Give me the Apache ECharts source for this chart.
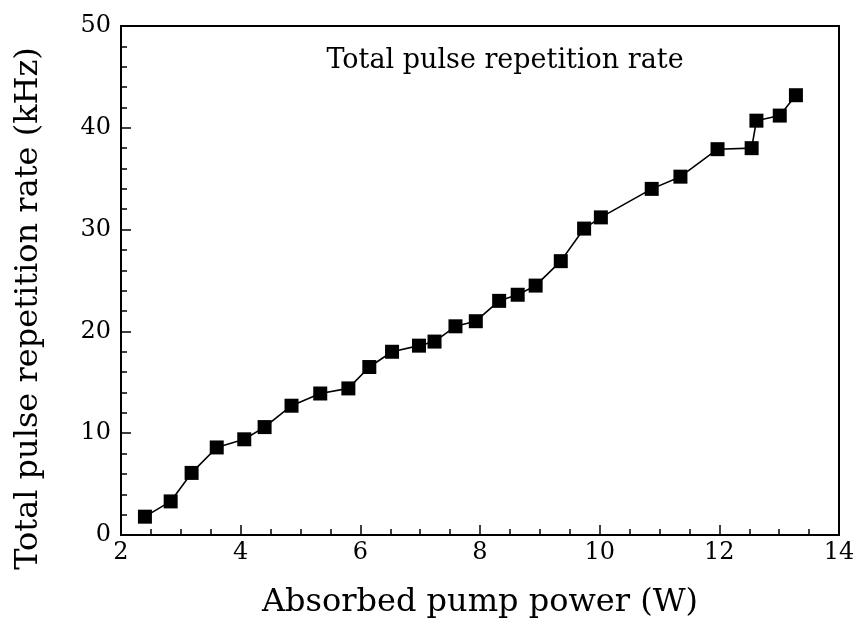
<!DOCTYPE html>
<html>
<head>
<meta charset="utf-8">
<script src="https://cdn.jsdelivr.net/npm/echarts@6/dist/echarts.min.js"></script>
<style>html,body{margin:0;padding:0;background:#fff}#c{width:863px;height:625px}</style>
</head>
<body>
<div id="c"></div>
<script>
const pumpPower = [2.40, 2.83, 3.18, 3.60, 4.06, 4.40, 4.85, 5.33, 5.80, 6.15, 6.53, 6.98, 7.24, 7.59, 7.93,
  8.32, 8.63, 8.93, 9.35, 9.74, 10.02, 10.87, 11.35, 11.97, 12.54, 12.62, 13.01, 13.28];
const repRate = [1.8, 3.3, 6.1, 8.6, 9.4, 10.6, 12.7, 13.9, 14.4, 16.5, 18.0, 18.6, 19.0, 20.5, 21.0,
  23.0, 23.6, 24.5, 26.9, 30.1, 31.2, 34.0, 35.2, 37.9, 38.0, 40.7, 41.2, 43.2];
const xTitle = 'Absorbed pump power (W)';
const yTitle = 'Total pulse repetition rate (kHz)';
const innerTitle = 'Total pulse repetition rate';

const font = '"DejaVu Serif", "Liberation Serif", serif';
const chart = echarts.init(document.getElementById('c'), null, {renderer: 'canvas'});
chart.setOption({
  backgroundColor: '#fff',
  animation: false,
  title: {
    text: innerTitle,
    left: 500, top: 42, textAlign: 'center',
    textStyle: {fontFamily: font, fontSize: 27, fontWeight: 'normal', color: '#000'}
  },
  grid: {left: 121, right: 24, top: 26, bottom: 90, show: true, borderColor: '#000', borderWidth: 2, backgroundColor: 'transparent'},
  xAxis: {
    type: 'value', min: 2, max: 14, interval: 2,
    name: xTitle, nameLocation: 'middle', nameGap: 52,
    nameTextStyle: {fontFamily: font, fontSize: 32, color: '#000'},
    axisLine: {show: true, lineStyle: {color: '#000', width: 2}},
    axisTick: {show: true, inside: true, length: 10, lineStyle: {color: '#000', width: 1.5}},
    minorTick: {show: true, splitNumber: 4, length: 6, lineStyle: {color: '#000', width: 1.5}},
    splitLine: {show: false},
    axisLabel: {fontFamily: font, fontSize: 24, color: '#000', margin: 6}
  },
  yAxis: {
    type: 'value', min: 0, max: 50, interval: 10,
    name: yTitle, nameLocation: 'middle', nameGap: 76,
    nameTextStyle: {fontFamily: font, fontSize: 32, color: '#000', padding: [0, 56, 0, 0]},
    axisLine: {show: true, lineStyle: {color: '#000', width: 2}},
    axisTick: {show: true, inside: true, length: 10, lineStyle: {color: '#000', width: 1.5}},
    minorTick: {show: true, splitNumber: 5, length: 6, lineStyle: {color: '#000', width: 1.5}},
    splitLine: {show: false},
    axisLabel: {fontFamily: font, fontSize: 24, color: '#000', margin: 10}
  },
  series: [{
    type: 'line',
    data: pumpPower.map((x, i) => [x, repRate[i]]),
    symbol: 'rect', symbolSize: 14,
    itemStyle: {color: '#000'},
    lineStyle: {color: '#000', width: 1.6}
  }]
});
</script>
</body>
</html>
